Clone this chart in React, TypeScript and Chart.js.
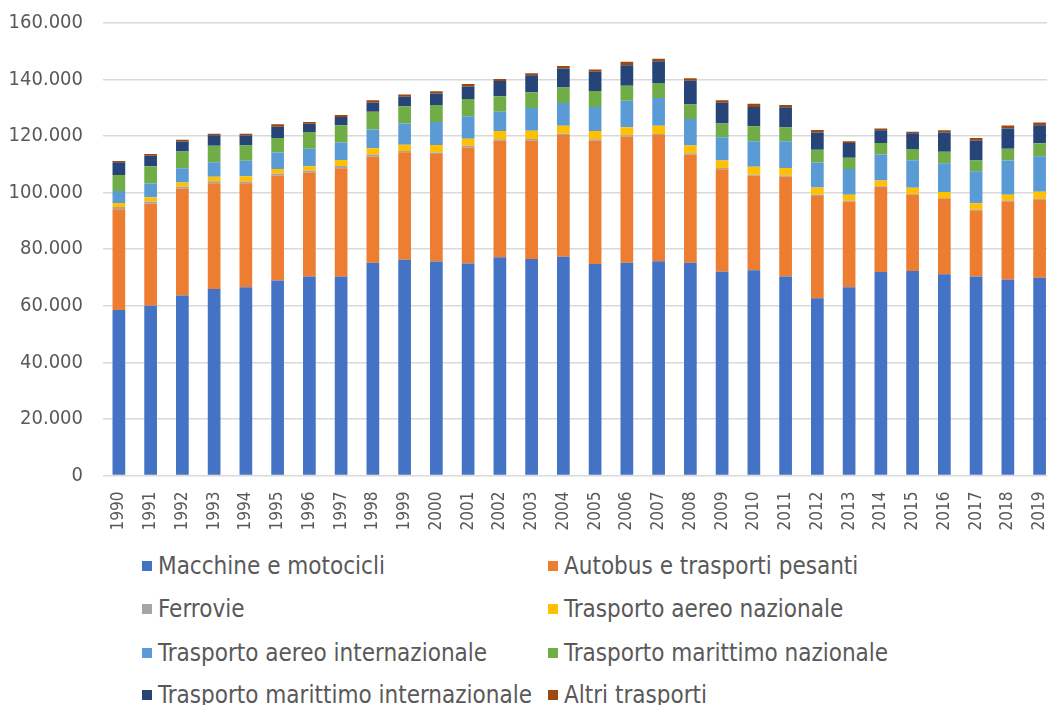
import React, { useEffect, useRef } from "react";
import { Chart, registerables } from "chart.js";

Chart.register(...registerables);

const years = ["1990","1991","1992","1993","1994","1995","1996","1997","1998","1999","2000","2001","2002","2003","2004","2005","2006","2007","2008","2009","2010","2011","2012","2013","2014","2015","2016","2017","2018","2019"];

const macchine = [58500,60000,63600,65900,66500,68900,70300,70300,75200,76200,75600,74900,77100,76500,77300,74700,75200,75700,75200,72000,72500,70300,62600,66500,71900,72300,71100,70300,69200,69900];
const autobus = [35600,36000,37700,37400,36800,37100,36700,38300,37500,38000,38000,41000,41200,41800,43000,43600,44600,44600,38200,36200,33400,35300,36200,30300,30000,27000,26700,23400,27700,27700];
const ferrovie = [800,800,700,700,600,700,700,800,700,500,500,600,500,600,500,500,400,400,500,500,400,400,400,400,300,300,300,300,300,300];
const aereoNazionale = [1400,1500,1500,1600,1800,1600,1600,2100,2200,2200,2700,2500,2900,2900,2800,2900,2900,2900,2700,2600,2800,2700,2600,2000,2000,2100,2100,2200,2000,2400];
const aereoInternazionale = [4200,4900,5100,5100,5500,5800,6200,6200,6700,7500,8100,7900,6800,8100,8000,8500,9300,9800,9400,8200,9000,9400,8800,9100,9200,9700,10100,11300,12100,12500];
const marittimoNazionale = [5700,6100,5900,5800,5400,5200,5900,6100,6200,6100,6000,6100,5500,5500,5500,5700,5300,5300,5100,4900,5300,4900,4500,4000,4100,4000,4100,3800,4200,4600];
const marittimoInternazionale = [4500,3700,3500,3700,3500,3900,2900,2900,3300,3300,4100,4500,5400,6000,6700,6800,7300,7700,8400,7300,6800,7100,6100,5200,4500,5500,6800,7100,7100,6400];
const altri = [400,600,600,600,700,900,600,700,800,800,800,800,700,700,900,800,1200,900,900,900,1200,800,900,600,600,600,800,900,1100,900];

const seriesNames = [
  "Macchine e motocicli",
  "Autobus e trasporti pesanti",
  "Ferrovie",
  "Trasporto aereo nazionale",
  "Trasporto aereo internazionale",
  "Trasporto marittimo nazionale",
  "Trasporto marittimo internazionale",
  "Altri trasporti",
];
const seriesColors = ["#4472C4","#ED7D31","#A5A5A5","#FFC000","#5B9BD5","#70AD47","#264478","#9E480E"];
const seriesData = [macchine, autobus, ferrovie, aereoNazionale, aereoInternazionale, marittimoNazionale, marittimoInternazionale, altri];

const FONT = "'DejaVu Sans Condensed', 'DejaVu Sans', sans-serif";
const TEXT_COLOR = "#595959";

function fmt(v: number): string {
  return String(v).replace(/\B(?=(\d{3})+(?!\d))/g, ".");
}

export default function App() {
  const ref = useRef<HTMLCanvasElement>(null);

  useEffect(() => {
    if (!ref.current) return;
    const chart = new Chart(ref.current, {
      type: "bar",
      data: {
        labels: years,
        datasets: seriesData.map((d, i) => ({
          label: seriesNames[i],
          data: d,
          backgroundColor: seriesColors[i],
          borderWidth: 0,
          barPercentage: 0.4,
          categoryPercentage: 1.0,
        })),
      },
      options: {
        responsive: false,
        animation: false,
        layout: { padding: { top: 22.7, left: 0, right: 0, bottom: 0 } },
        plugins: { legend: { display: false }, tooltip: { enabled: false } },
        scales: {
          x: {
            stacked: true,
            grid: { display: false },
            border: { display: false },
            ticks: {
              minRotation: 90,
              maxRotation: 90,
              autoSkip: false,
              padding: 8,
              color: TEXT_COLOR,
              font: { family: FONT, size: 17 },
            },
            afterFit: (s: any) => { s.height = 64.5; },
          },
          y: {
            stacked: true,
            min: 0,
            max: 160000,
            grid: { color: "#d9d9d9", lineWidth: 1.5, drawTicks: true, tickLength: 20, tickColor: "rgba(0,0,0,0)" },
            border: { display: false },
            ticks: {
              stepSize: 20000,
              padding: 0,
              color: TEXT_COLOR,
              font: { family: FONT, size: 20 },
              callback: (v: any) => fmt(Number(v)),
            },
            afterFit: (s: any) => { s.width = 103; },
          },
        },
      },
    });
    return () => chart.destroy();
  }, []);

  const rows = [566, 609, 653, 695];
  const cols = [142, 548];

  return (
    <div style={{ position: "fixed", left: 0, top: 0, width: 1047, height: 705, overflow: "hidden", background: "#fff" }}>
      <canvas ref={ref} width={1068} height={540} style={{ position: "absolute", left: 0, top: 0, width: 1068, height: 540 }} />
      {seriesNames.map((name, i) => {
        const r = Math.floor(i / 2);
        const c = i % 2;
        return (
          <div
            key={name}
            style={{
              position: "absolute",
              left: cols[c],
              top: rows[r] - 15,
              height: 30,
              display: "flex",
              alignItems: "center",
              whiteSpace: "nowrap",
              fontFamily: FONT,
              fontSize: 24,
              color: TEXT_COLOR,
            }}
          >
            <span style={{ display: "inline-block", width: 10, height: 10, background: seriesColors[i], marginRight: 6 }} />
            <span>{name}</span>
          </div>
        );
      })}
    </div>
  );
}
